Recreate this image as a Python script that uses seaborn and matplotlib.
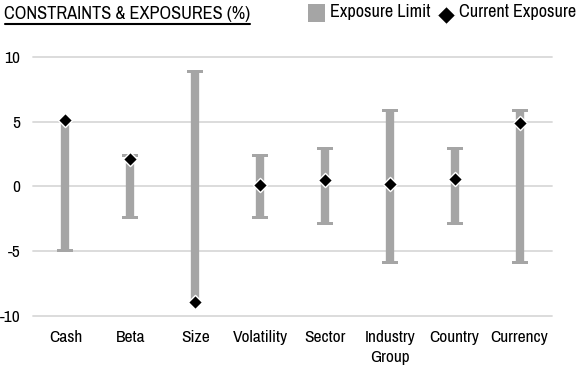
import numpy as np
import pandas as pd
import seaborn as sns
import matplotlib
matplotlib.use("Agg")
import matplotlib.pyplot as plt
from matplotlib import font_manager as fm
from matplotlib.path import Path
from matplotlib.markers import MarkerStyle
from matplotlib.patches import Rectangle
from matplotlib.lines import Line2D

# ---------------- data ----------------
categories = ["Cash", "Beta", "Size", "Volatility", "Sector", "Industry\nGroup", "Country", "Currency"]
limit_lower = [-5.1, -2.5, -9.0, -2.5, -3.0, -6.0, -3.0, -6.0]
limit_upper = [5.1, 2.5, 9.0, 2.5, 3.0, 6.0, 3.0, 6.0]
current_exposure = [5.1, 2.1, -8.9, 0.1, 0.5, 0.2, 0.6, 4.9]
show_top_cap = [False, True, True, True, True, True, True, True]
show_bottom_cap = [True, True, False, True, True, True, True, True]
y_ticks = [-10, -5, 0, 5, 10]
title = "CONSTRAINTS & EXPOSURES (%)"
legend_labels = ["Exposure Limit", "Current Exposure"]

# ---------------- style ----------------
sns.set_theme(style="white")
names = {f.name for f in fm.fontManager.ttflist}
FAM = "Liberation Sans"
for cand in ["Liberation Sans Narrow", "Arial Narrow", "Archivo Narrow", "Roboto Condensed"]:
    if cand in names:
        FAM = cand
        break
FS = 12.5
plt.rcParams["font.family"] = [FAM, "DejaVu Sans"]

GRAY = "#A5A5A5"
GRID = "#D9D9D9"
W, H = 577, 368

df = pd.DataFrame({
    "category": categories,
    "pos": np.arange(len(categories)),
    "lower": limit_lower,
    "upper": limit_upper,
    "current": current_exposure,
})

fig = plt.figure(figsize=(W / 100, H / 100), dpi=100)

def fx(px):
    return px / W

def fy(py):
    return 1 - py / H

ax = fig.add_axes([fx(33), fy(316), fx(552) - fx(33), fy(56.7) - fy(316)])

# grid
for t in y_ticks:
    ax.axhline(t, color=GRID, lw=1.3, zorder=0, clip_on=False)

# limit bars
ax.vlines(df["pos"], df["lower"], df["upper"], color=GRAY, lw=6.0, zorder=1,
          capstyle="butt")

# caps (flush with bar ends)
cap_top = MarkerStyle(Path([(-1, 0), (1, 0), (1, -0.44), (-1, -0.44), (-1, 0)]))
cap_bot = MarkerStyle(Path([(-1, 0), (1, 0), (1, 0.44), (-1, 0.44), (-1, 0)]))
tp = df[show_top_cap]
bp = df[show_bottom_cap]
ax.plot(tp["pos"], tp["upper"], ls="none", marker=cap_top, ms=11, color=GRAY,
        mew=0, zorder=1, clip_on=False)
ax.plot(bp["pos"], bp["lower"], ls="none", marker=cap_bot, ms=11, color=GRAY,
        mew=0, zorder=1, clip_on=False)

# current exposure diamonds
sns.scatterplot(data=df, x="pos", y="current", marker="D", s=52, color="black",
                edgecolor="white", linewidth=1.0, zorder=3, clip_on=False, ax=ax,
                legend=False)

ax.set_xlim(-0.5, len(categories) - 0.5)
ax.set_ylim(-10, 10)
ax.set_yticks(y_ticks)
ax.set_yticklabels([str(t) for t in y_ticks])
ax.set_xticks(df["pos"])
ax.set_xticklabels(categories, linespacing=1.4)
ax.set_xlabel("")
ax.set_ylabel("")
for s in ax.spines.values():
    s.set_visible(False)
ax.tick_params(axis="x", length=0, pad=10.0, labelsize=FS, labelcolor="black")
ax.tick_params(axis="y", length=0, pad=9.0, labelsize=FS, labelcolor="black")
ax.grid(False)
ax.set_facecolor("white")

# title with underline
fig.text(fx(4), fy(19), title, fontsize=FS + 0.7, ha="left", va="baseline", color="black")
fig.add_artist(Line2D([fx(5), fx(250)], [fy(24.2), fy(24.2)], lw=1.5, color="black"))

# legend (manual)
fig.add_artist(Rectangle((fx(308), fy(21.5)), fx(325) - fx(308), fy(4.5) - fy(21.5),
                         facecolor=GRAY, edgecolor="none", transform=fig.transFigure))
fig.text(fx(330), fy(16.7), legend_labels[0], fontsize=FS + 0.6, ha="left", va="baseline", color="black")
fig.add_artist(Line2D([fx(445.5)], [fy(15)], marker="D", ms=9, color="black",
                      mec="white", mew=0.8, ls="none"))
fig.text(fx(459), fy(16.7), legend_labels[1], fontsize=FS + 0.6, ha="left", va="baseline", color="black")

fig.savefig("out.png", dpi=100, facecolor="white")
